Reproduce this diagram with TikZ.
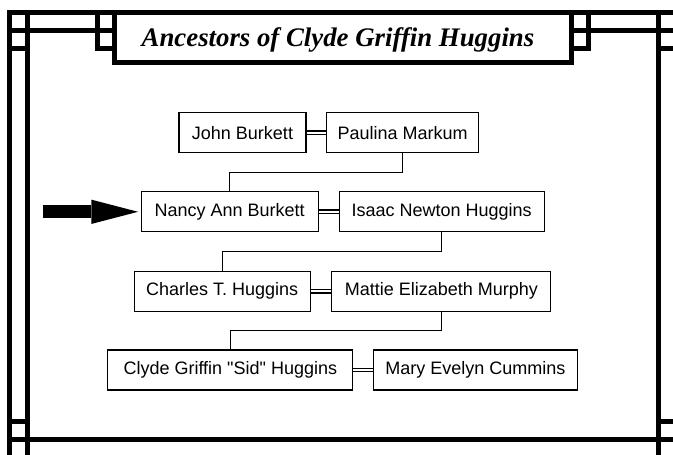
\documentclass[tikz,border=0pt]{standalone}
\usepackage{fontspec}
\setmainfont{Liberation Sans}[Ligatures=TeXOff]
\newfontfamily\titlefont{Liberation Serif}
\usetikzlibrary{arrows.meta}

\begin{document}
\begin{tikzpicture}[x=1pt,y=-1pt,
    person/.style={draw,line width=1.3pt,minimum height=40pt,inner sep=0pt,
        font=\fontsize{18}{22}\selectfont},
    couple/.style={double,double distance=2.4pt,line width=1.2pt},
    descent/.style={line width=1.3pt},
    frame/.style={line width=5pt,line cap=rect}]
    \path[use as bounding box,clip] (0,0) rectangle (673,455);
    % Frame
    \draw[frame] (9.5,460) -- (9.5,12.5) -- (680,12.5); % outer edge
    \draw[frame] (27.5,12.5) -- (27.5,460);
    \draw[frame] (658,12.5) -- (658,460);
    \draw[frame] (9.5,30.5) -- (114.5,30.5);
    \draw[frame] (571,30.5) -- (680,30.5);
    \draw[frame] (9.5,48.5) -- (27.5,48.5);
    \draw[frame] (658,48.5) -- (680,48.5);
    \draw[frame] (97.5,12.5) -- (97.5,48.5) -- (114.5,48.5);
    \draw[frame] (588,12.5) -- (588,48.5) -- (571,48.5);
    \draw[frame] (114.5,12.5) -- (114.5,62.5) -- (571,62.5) -- (571,12.5); % title box
    \draw[frame] (9.5,439.5) -- (680,439.5);
    \draw[frame] (9.5,421.5) -- (27.5,421.5);
    \draw[frame] (658,421.5) -- (680,421.5);
    % Title
    \node[font=\titlefont\fontsize{26.8}{30}\selectfont\bfseries\itshape,anchor=base]
        (title) at (338,46.7) {Ancestors of Clyde Griffin Huggins};
    % Generations
    \node[person,minimum width=127pt] (john) at (242.5,132.8) {John Burkett};
    \node[person,minimum width=152pt] (paulina) at (402.7,132.8) {Paulina Markum};
    \node[person,minimum width=177pt] (nancy) at (229.7,211.8) {Nancy Ann Burkett};
    \node[person,minimum width=205pt] (isaac) at (441.7,211.8) {Isaac Newton Huggins};
    \node[person,minimum width=176pt] (charles) at (222.2,291.2) {Charles T. Huggins};
    \node[person,minimum width=219pt] (mattie) at (441.3,291.2) {Mattie Elizabeth Murphy};
    \node[person,minimum width=245pt] (clyde) at (230.3,370) {Clyde Griffin "Sid" Huggins};
    \node[person,minimum width=204pt] (mary) at (475.5,370) {Mary Evelyn Cummins};
    % Marriages
    \draw[couple] (john) -- (paulina);
    \draw[couple] (nancy) -- (isaac);
    \draw[couple] (charles) -- (mattie);
    \draw[couple] (clyde) -- (mary);
    % Descent
    \draw[descent] (paulina.south) -- ++(0,19) -| (nancy.north);
    \draw[descent] (isaac.south) -- ++(0,19) -| (charles.north);
    \draw[descent] (mattie.south) -- ++(0,18.5) -| (clyde.north);
    % Pointer
    \coordinate (pointer) at (42.7,211.8);
    \draw[line width=12.7pt,-{Triangle[length=46.7pt,width=24.3pt,line width=0pt]},
        shorten >=2.5pt] (pointer) -- (nancy.west);
\end{tikzpicture}
\end{document}
